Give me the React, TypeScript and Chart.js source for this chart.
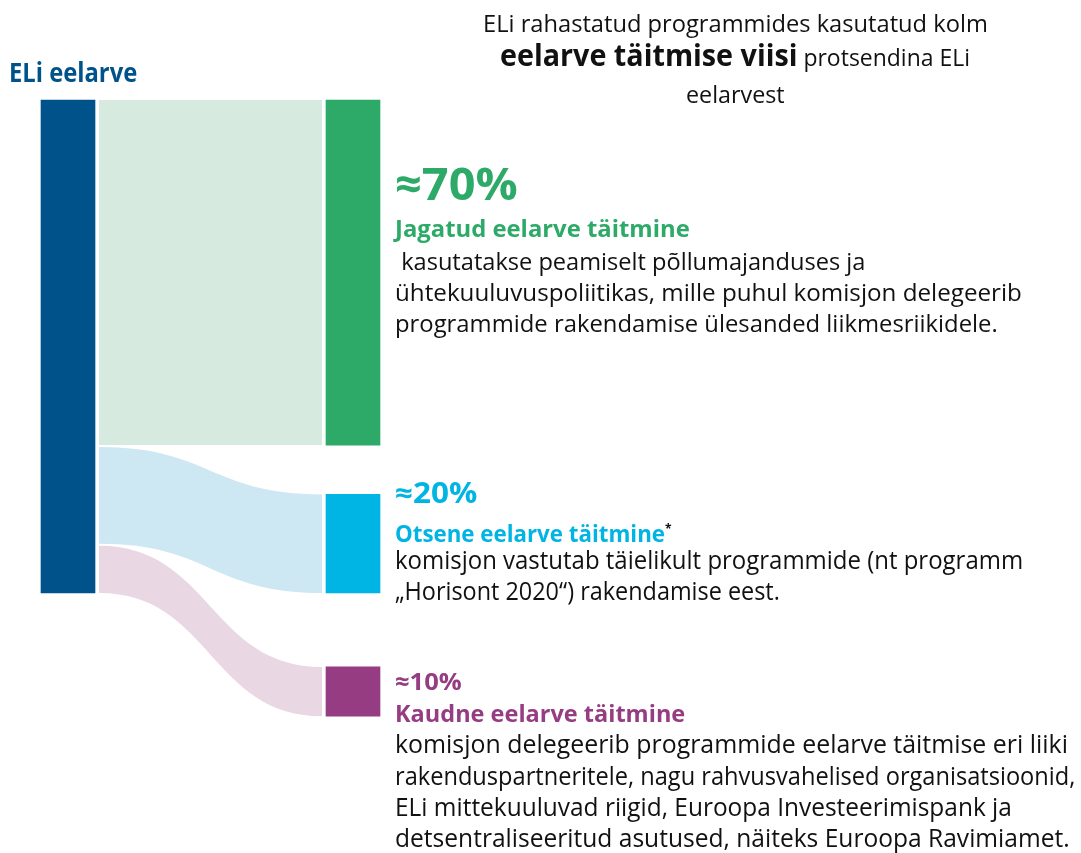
import React, { useEffect, useLayoutEffect, useRef } from 'react';
import { Chart, registerables } from 'chart.js';

Chart.register(...registerables);

// ---------- data ----------
const SOURCE_LABEL = 'ELi eelarve';
const TARGET_LABELS = ['Jagatud eelarve täitmine', 'Otsene eelarve täitmine', 'Kaudne eelarve täitmine'];
const SHARE_LABELS = ['≈70%', '≈20%', '≈10%'];
const FLOW_VALUES = [70, 20, 10];
const SOURCE_TOTAL = 100;

const TITLE_LINE_1 = 'ELi rahastatud programmides kasutatud kolm';
const TITLE_BOLD = 'eelarve täitmise viisi';
const TITLE_REST = ' protsendina ELi';
const TITLE_LINE_3 = 'eelarvest';

const DESC_1 = [
  ' kasutatakse peamiselt põllumajanduses ja',
  'ühtekuuluvuspoliitikas, mille puhul komisjon delegeerib',
  'programmide rakendamise ülesanded liikmesriikidele.',
];
const DESC_2 = [
  'komisjon vastutab täielikult programmide (nt programm',
  '\u201EHorisont 2020\u201C) rakendamise eest.',
];
const DESC_3 = [
  'komisjon delegeerib programmide eelarve täitmise eri liiki',
  'rakenduspartneritele, nagu rahvusvahelised organisatsioonid,',
  'ELi mittekuuluvad riigid, Euroopa Investeerimispank ja',
  'detsentraliseeritud asutused, näiteks Euroopa Ravimiamet.',
];

// ---------- styles / layout ----------
const SOURCE_COLOR = '#00538a';
const TARGET_COLORS = ['#2eaa68', '#00b4e3', '#963c82'];
const FLOW_COLORS = ['#d6eadf', '#cde8f3', '#ead7e4'];
const TEXT_COLOR = '#111111';
const FONT = '"Open Sans", "Noto Sans", sans-serif';

const TARGET_GAPS = [0, 10, 15];
const FLOW_INSET = 0.4;
const NODE_W = 54;
const FLOW_PAD = 4;

const W = 1081;
const H = 853;
const PX_PER_PCT = 4.93;
const Y_TOP_PX = 100;
const Y_MIN = -Y_TOP_PX / PX_PER_PCT;
const Y_MAX = Y_MIN + H / PX_PER_PCT;
const COL_PX = 285;
const SRC_CENTER_PX = 68;
const X_MIN = -SRC_CENTER_PX / COL_PX;
const X_MAX = X_MIN + W / COL_PX;

type Spec = {
  x: number;
  base: number;
  size: number;
  w: number;
  bold?: boolean;
  color?: string;
  content: React.ReactNode;
};

const flowPlugin = {
  id: 'sankeyFlows',
  beforeDatasetsDraw(chart: any) {
    const xs = chart.scales.x;
    const ys = chart.scales.y;
    const ctx = chart.ctx;
    const x0 = xs.getPixelForValue(0) + NODE_W / 2 + FLOW_PAD;
    const x1 = xs.getPixelForValue(1) - NODE_W / 2 - FLOW_PAD;
    const xm = (x0 + x1) / 2;
    let srcStart = 0;
    let tgtStart = 0;
    FLOW_VALUES.forEach((v, i) => {
      tgtStart += TARGET_GAPS[i];
      const lt = ys.getPixelForValue(srcStart + (i > 0 ? FLOW_INSET : 0));
      const lb = ys.getPixelForValue(srcStart + v);
      const rt = ys.getPixelForValue(tgtStart);
      const rb = ys.getPixelForValue(tgtStart + v);
      ctx.save();
      ctx.beginPath();
      ctx.moveTo(x0, lt);
      ctx.bezierCurveTo(xm, lt, xm, rt, x1, rt);
      ctx.lineTo(x1, rb);
      ctx.bezierCurveTo(xm, rb, xm, lb, x0, lb);
      ctx.closePath();
      ctx.fillStyle = FLOW_COLORS[i];
      ctx.fill();
      ctx.restore();
      srcStart += v;
      tgtStart += v;
    });
  },
};

function TextLine({ s }: { s: Spec }) {
  return (
    <div
      data-w={s.w}
      style={{
        position: 'absolute',
        left: s.x,
        top: s.base - 0.888 * s.size,
        fontFamily: FONT,
        fontSize: s.size,
        lineHeight: `${s.size}px`,
        fontWeight: s.bold ? 700 : 400,
        color: s.color || TEXT_COLOR,
        whiteSpace: 'pre',
        transformOrigin: 'left top',
      }}
    >
      {s.content}
    </div>
  );
}

export default function App() {
  const canvasRef = useRef<HTMLCanvasElement>(null);
  const textRef = useRef<HTMLDivElement>(null);

  useLayoutEffect(() => {
    const root = textRef.current;
    if (!root) return;
    root.querySelectorAll<HTMLDivElement>('[data-w]').forEach((el) => {
      const target = Number(el.dataset.w);
      const nat = el.scrollWidth;
      if (nat > 0) el.style.transform = `scaleX(${target / nat})`;
    });
  }, []);

  useEffect(() => {
    const canvas = canvasRef.current;
    if (!canvas) return;
    const nodeData: any[] = [{ x: 0, y: [0, SOURCE_TOTAL] }];
    let start = 0;
    FLOW_VALUES.forEach((v, i) => {
      start += TARGET_GAPS[i];
      nodeData.push({ x: 1, y: [start, start + v] });
      start += v;
    });
    const chart = new Chart(canvas, {
      type: 'bar',
      data: {
        datasets: [
          {
            label: [SOURCE_LABEL, ...TARGET_LABELS].join(' / '),
            data: nodeData,
            backgroundColor: [SOURCE_COLOR, ...TARGET_COLORS],
            borderWidth: 0,
            barThickness: NODE_W,
            grouped: false,
          } as any,
        ],
      },
      options: {
        animation: false,
        responsive: false,
        maintainAspectRatio: false,
        devicePixelRatio: 1,
        layout: { padding: 0 },
        plugins: { legend: { display: false }, tooltip: { enabled: false }, title: { display: false } },
        scales: {
          x: { type: 'linear', min: X_MIN, max: X_MAX, offset: false, display: false },
          y: { type: 'linear', min: Y_MIN, max: Y_MAX, reverse: true, display: false },
        },
      } as any,
      plugins: [flowPlugin],
    });
    return () => chart.destroy();
  }, []);

  const specs: Spec[] = [
    { x: 9, base: 82, size: 26, w: 128, bold: true, color: SOURCE_COLOR, content: SOURCE_LABEL },
    { x: 483, base: 32, size: 24, w: 505, content: TITLE_LINE_1 },
    {
      x: 500, base: 67, size: 30, w: 470,
      content: (
        <>
          <span style={{ fontWeight: 700 }}>{TITLE_BOLD}</span>
          <span style={{ fontSize: 24 }}>{TITLE_REST}</span>
        </>
      ),
    },
    { x: 686, base: 103, size: 24, w: 99, content: TITLE_LINE_3 },

    { x: 395, base: 200, size: 45, w: 123, bold: true, color: TARGET_COLORS[0], content: SHARE_LABELS[0] },
    { x: 395, base: 237, size: 24, w: 295, bold: true, color: TARGET_COLORS[0], content: TARGET_LABELS[0] },
    { x: 395, base: 270, size: 24, w: 470, content: DESC_1[0] },
    { x: 395, base: 301, size: 24, w: 627, content: DESC_1[1] },
    { x: 395, base: 332, size: 24, w: 603, content: DESC_1[2] },

    { x: 395, base: 503, size: 28, w: 82, bold: true, color: TARGET_COLORS[1], content: SHARE_LABELS[1] },
    {
      x: 395, base: 537, size: 24, w: 277, bold: true, color: TARGET_COLORS[1],
      content: (
        <>
          {TARGET_LABELS[1]}
          <span style={{ fontSize: 13, verticalAlign: 9, color: TEXT_COLOR }}>*</span>
        </>
      ),
    },
    { x: 395, base: 569, size: 25, w: 628, content: DESC_2[0] },
    { x: 395, base: 600, size: 25, w: 385, content: DESC_2[1] },

    { x: 395, base: 690, size: 24, w: 67, bold: true, color: TARGET_COLORS[2], content: SHARE_LABELS[2] },
    { x: 395, base: 722, size: 24, w: 290, bold: true, color: TARGET_COLORS[2], content: TARGET_LABELS[2] },
    { x: 395, base: 753, size: 25, w: 673, content: DESC_3[0] },
    { x: 395, base: 785, size: 25, w: 680, content: DESC_3[1] },
    { x: 395, base: 816, size: 25, w: 617, content: DESC_3[2] },
    { x: 395, base: 847, size: 25, w: 675, content: DESC_3[3] },
  ];

  return (
    <div
      style={{
        position: 'fixed',
        left: 0,
        top: 0,
        width: W,
        height: H,
        overflow: 'hidden',
        background: '#ffffff',
      }}
    >
      <canvas ref={canvasRef} width={W} height={H} style={{ position: 'absolute', left: 0, top: 0, width: W, height: H }} />
      <div ref={textRef} style={{ position: 'absolute', left: 0, top: 0, width: W, height: H }}>
        {specs.map((s, i) => (
          <TextLine key={i} s={s} />
        ))}
      </div>
    </div>
  );
}
